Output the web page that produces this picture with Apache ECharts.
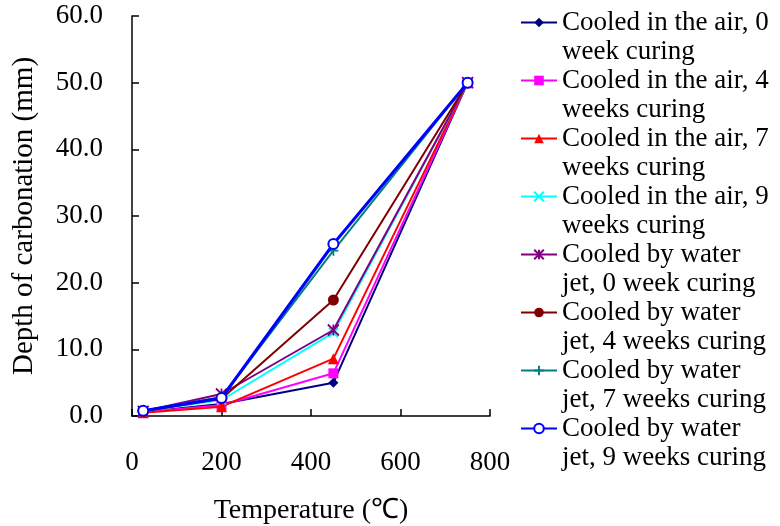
<!DOCTYPE html>
<html>
<head>
<meta charset="utf-8">
<script src="https://cdn.jsdelivr.net/npm/echarts@6/dist/echarts.min.js"></script>
<style>
  html, body { margin: 0; padding: 0; background: #fff; }
  #chart { width: 780px; height: 526px; }
</style>
</head>
<body>
<div id="chart"></div>
<script>
// Exposure temperatures (°C)
const temperatures = [25, 200, 450, 750];

// Depth of carbonation (mm) for each cooling method / curing time
const airWeek0   = [0.6, 1.8, 5.0, 50.0];
const airWeek4   = [0.6, 1.6, 6.4, 50.0];
const airWeek7   = [0.5, 1.4, 8.6, 50.0];
const airWeek9   = [0.7, 2.4, 12.5, 50.0];
const waterWeek0 = [0.7, 3.3, 12.9, 50.0];
const waterWeek4 = [0.7, 2.6, 17.4, 50.0];
const waterWeek7 = [0.8, 2.8, 24.8, 50.0];
const waterWeek9 = [0.8, 2.7, 25.8, 50.0];

const seriesNames = [
  'Cooled in the air, 0\nweek curing',
  'Cooled in the air, 4\nweeks curing',
  'Cooled in the air, 7\nweeks curing',
  'Cooled in the air, 9\nweeks curing',
  'Cooled by water\njet, 0 week curing',
  'Cooled by water\njet, 4 weeks curing',
  'Cooled by water\njet, 7 weeks curing',
  'Cooled by water\njet, 9 weeks curing'
];

const FONT = '"Liberation Serif", "Times New Roman", serif';

const crossPath = 'path://M0,0L10,10M10,0L0,10';
const plusPath = 'path://M5,0L5,10M0,5L10,5';
const asteriskPath = 'path://M0,0L10,10M10,0L0,10M5,0L5,10';

const styles = [
  { data: airWeek0,   color: '#000080', symbol: 'diamond',     size: 10, width: 2 },
  { data: airWeek4,   color: '#FF00FF', symbol: 'rect',        size: 10, width: 2 },
  { data: airWeek7,   color: '#FF0000', symbol: 'triangle',    size: 11, width: 2 },
  { data: airWeek9,   color: '#00FFFF', symbol: crossPath,     size: 9,  width: 2, stroke: true },
  { data: waterWeek0, color: '#800080', symbol: asteriskPath,  size: 11, width: 2, stroke: true },
  { data: waterWeek4, color: '#800000', symbol: 'circle',      size: 11, width: 2 },
  { data: waterWeek7, color: '#008080', symbol: plusPath,      size: 10, width: 2, stroke: true },
  { data: waterWeek9, color: '#0000FF', symbol: 'emptyCircle', size: 10, width: 3 }
];

const series = styles.map((s, i) => ({
  name: seriesNames[i],
  type: 'line',
  data: temperatures.map((t, k) => [t, s.data[k]]),
  symbol: s.symbol,
  symbolSize: s.size,
  showAllSymbol: true,
  color: s.color,
  lineStyle: { color: s.color, width: s.width },
  itemStyle: s.stroke
    ? { color: s.color, borderColor: s.color, borderWidth: 1.8 }
    : (s.symbol === 'emptyCircle'
        ? { color: s.color, borderWidth: 2 }
        : { color: s.color }),
  z: 2 + i,
  animation: false
}));

const chart = echarts.init(document.getElementById('chart'), null, { renderer: 'canvas' });
chart.setOption({
  backgroundColor: '#fff',
  animation: false,
  textStyle: { fontFamily: FONT, color: '#000' },
  grid: {
    left: 132, right: 290, top: 16, bottom: 110,
    containLabel: false,
    outerBoundsMode: 'none'
  },
  xAxis: {
    type: 'value',
    min: 0, max: 800, interval: 200,
    name: 'Temperature (\u2103)',
    nameLocation: 'middle',
    nameGap: 81,
    nameTextStyle: { fontFamily: FONT, fontSize: 28, color: '#000' },
    axisLine: { show: true, lineStyle: { color: '#000', width: 1.5 } },
    axisTick: { show: true, inside: true, length: 7, lineStyle: { color: '#000', width: 1.5 } },
    axisLabel: { fontFamily: FONT, fontSize: 27, color: '#000', margin: 33 },
    splitLine: { show: false }
  },
  yAxis: {
    type: 'value',
    min: 0, max: 60, interval: 10,
    name: 'Depth of carbonation (mm)',
    nameLocation: 'middle',
    nameGap: 93,
    nameTextStyle: { fontFamily: FONT, fontSize: 29, color: '#000' },
    axisLine: { show: true, lineStyle: { color: '#000', width: 1.5 } },
    axisTick: { show: true, inside: true, length: 7, lineStyle: { color: '#000', width: 1.5 } },
    axisLabel: {
      fontFamily: FONT, fontSize: 27, color: '#000', margin: 29,
      formatter: v => v.toFixed(1)
    },
    splitLine: { show: false }
  },
  legend: {
    orient: 'vertical',
    left: 520,
    top: -21,
    padding: 0,
    itemWidth: 36,
    itemHeight: 12,
    itemGap: -29,
    data: seriesNames,
    formatter: name => '\n' + name,
    textStyle: { fontFamily: FONT, fontSize: 27, color: '#000', lineHeight: 29 }
  },
  series: series
});
</script>
</body>
</html>
